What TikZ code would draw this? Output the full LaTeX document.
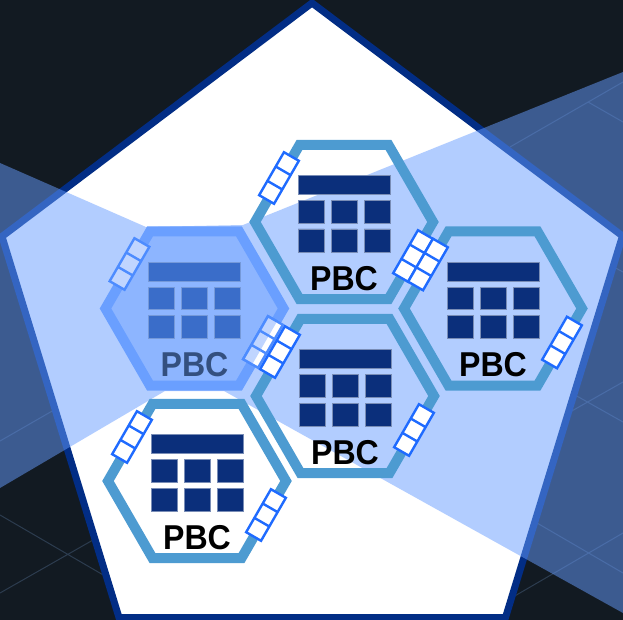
\documentclass[tikz,border=0pt]{standalone}
\usepackage{fontspec}
\setmainfont{Liberation Sans}[FakeStretch=0.93]
\definecolor{nightbg}{HTML}{121A22}
\definecolor{gridln}{HTML}{2C3C4F}
\definecolor{penta}{HTML}{022D85}
\definecolor{beam}{HTML}{679DFF}
\definecolor{hexln}{HTML}{4D9BD1}
\definecolor{hexon}{HTML}{6A9FFF}
\definecolor{hexfill}{HTML}{8DB5FF}
\definecolor{cell}{HTML}{0B2F7B}
\definecolor{cellon}{HTML}{3A6DC9}
\definecolor{texton}{HTML}{34507F}
\definecolor{stripln}{HTML}{1F6BFF}
\definecolor{stripon}{HTML}{4D8CFF}
\definecolor{stripdim}{HTML}{C0D5FF}
\newcommand{\hexpath}[1]{(0:#1)--(60:#1)--(120:#1)--(180:#1)--(240:#1)--(300:#1)--cycle}
\newcommand{\strippath}{(-8.6,-24.8)rectangle(8.6,24.8)(-8.6,-8.3)--(8.6,-8.3)(-8.6,8.3)--(8.6,8.3)}
\newcommand{\tablepath}{(-46,-46.5)rectangle(46,-27.5)
  (-46,-21.5)rectangle(-20,1)(-13,-21.5)rectangle(13,1)(20,-21.5)rectangle(46,1)
  (-46,7)rectangle(-20,30)(-13,7)rectangle(13,30)(20,7)rectangle(46,30)}
\begin{document}
\begin{tikzpicture}[x=1pt,y=-1pt,
      hexring/.style={line width=10pt,miter limit=10},
      cellbox/.style={fill=cell,draw=cell!55!white,line width=0.5pt},
      stripbox/.style={fill=white,draw=stripln,line width=2.4pt},
      gridline/.style={gridln,line width=1pt},
      pbclabel/.style={font=\fontsize{34.5}{34.5}\selectfont\bfseries,inner sep=0pt,anchor=base}]
      \clip(0,0)rectangle(623,620);
      \fill[nightbg](0,0)rectangle(623,620);
      % lines on the floor
      \draw[gridline](0,441)--(54,410)(0,515)--(105,576)(0,593)--(93,540)
        (510,147)--(623,82)(588,102)--(623,122)(610,265)--(623,272)
        (570,412)--(623,382)(575,395)--(623,422)
        (513,597)--(623,533)(537,523)--(623,573);
      \filldraw[fill=white,draw=penta,line width=7pt,miter limit=10]
        (312,3)--(622.5,236)--(505.5,617.5)--(119,617.5)--(2,236.5)--cycle;
      \fill[beam,opacity=.5](146,227)--(0,163)--(0,488)--(165,391)--(224,391)
        --(623,613)--(623,72)--(243,225)--cycle;
      % the hexagon that is switched on
      \begin{scope}[shift={(194.5,308.5)}]
        \filldraw[hexring,fill=hexfill,draw=hexon]\hexpath{89};
        \path[fill=cellon,draw=cellon!70!white,line width=0.5pt]\tablepath;
        \node[pbclabel,text=texton](pbcon)at(0,68){PBC};
      \end{scope}
      \draw[stripbox,fill=stripdim,draw=stripon,shift={(129.5,264)},rotate=-30]\strippath;
      \draw[stripbox,draw=stripon,shift={(263,342)},rotate=-30]\strippath;
      \begin{scope}
        \clip[shift={(194.5,308.5)}]\hexpath{90};
        \draw[stripbox,fill=stripdim,draw=stripon,shift={(263,342)},rotate=-30]\strippath;
      \end{scope}
      % the four others
      \foreach \cx/\cy/\hn in {344/222/top,493/308.5/right,345/396/mid,197/481/low}{
        \begin{scope}[shift={(\cx,\cy)}]
          \path[hexring,draw=hexln]\hexpath{89};
          \path[cellbox]\tablepath;
          \node[pbclabel](pbc\hn)at(0,68){PBC};
        \end{scope}
      }
      \foreach \cx/\cy in {344/222,493/308.5,345/396,197/481}{
        \draw[stripbox,shift={(\cx-65,\cy-44)},rotate=-30]\strippath;
        \draw[stripbox,shift={(\cx+69,\cy+34)},rotate=-30]\strippath;
      }
\end{tikzpicture}
\end{document}
